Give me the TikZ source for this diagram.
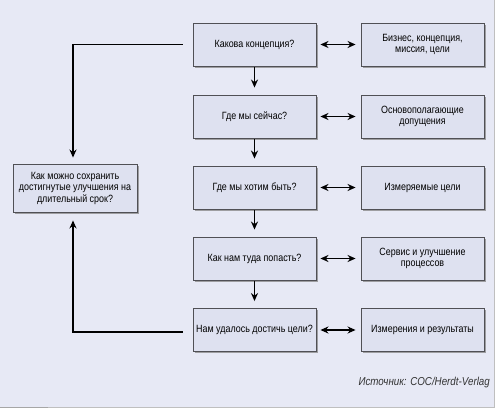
\documentclass[tikz,border=0pt]{standalone}
\usepackage{fontspec}
\setmainfont[FakeStretch=0.85]{Liberation Sans}
\usetikzlibrary{shadows,arrows.meta}
\definecolor{panelbg}{RGB}{231,233,245}
\definecolor{boxfill}{RGB}{222,225,240}
\definecolor{boxline}{RGB}{80,80,85}
\tikzset{
  box/.style={draw=boxline, line width=0.9pt, fill=boxfill, minimum width=123pt, minimum height=43pt,
    align=center, font=\fontsize{10.5}{11.5}\selectfont, inner sep=1pt,
    drop shadow={shadow xshift=1.6pt, shadow yshift=-1.6pt, fill=black!45, opacity=0.8}},
  conn/.style={line width=1.8pt, -{Stealth[length=8pt,width=7pt]}},
  dconn/.style={line width=1.8pt, {Stealth[length=8pt,width=7pt]}-{Stealth[length=8pt,width=7pt]}},
}
\begin{document}
\begin{tikzpicture}[x=1pt,y=-1pt]
\useasboundingbox (0,0) rectangle (500,411);
\fill[white] (0,0) rectangle (500,411);
\fill[panelbg] (0,0) rectangle (494,407);
\draw[black!25, line width=1pt] (494,0) -- (494,407) -- (0,407);
\draw[black!35, line width=1.2pt] (0,407.5) -- (48,407.5);
% main column
\node[box] (m1) at (254.5,44.5) {Какова концепция?};
\node[box] (m2) at (254.5,116.5) {Где мы сейчас?};
\node[box] (m3) at (254.5,187.5) {Где мы хотим быть?};
\node[box] (m4) at (254.5,258.5) {Как нам туда попасть?};
\node[box] (m5) at (254.5,330) {Нам удалось достичь цели?};
% right column
\node[box] (r1) at (422.5,44.5) {Бизнес, концепция,\\миссия, цели};
\node[box] (r2) at (422.5,116.5) {Основополагающие\\допущения};
\node[box] (r3) at (422.5,187.5) {Измеряемые цели};
\node[box] (r4) at (422.5,258.5) {Сервис и улучшение\\процессов};
\node[box] (r5) at (422.5,330) {Измерения и результаты};
% left box
\node[box, minimum width=124pt, minimum height=48pt] (l) at (75,188) {Как можно сохранить\\достигнутые улучшения на\\длительный срок?};
% down arrows
\foreach \a/\b in {m1/m2,m2/m3,m3/m4,m4/m5}
  \draw[conn, shorten >=7pt, shorten <=1pt] (\a.south) -- (\b.north);
% double arrows
\foreach \i in {1,...,5}
  \draw[dconn, shorten <=4pt, shorten >=5pt] (m\i.east) -- (r\i.west);
% left loop
\draw[conn, shorten >=6pt] ([xshift=-10pt]m1.west) -| ([xshift=-2pt]l.north);
\draw[conn, shorten >=8pt] ([xshift=-10pt,yshift=-2pt]m5.west) -| ([xshift=-2pt]l.south);
% source
\node[anchor=base east, font=\fontsize{11.5}{13}\selectfont\itshape, text=black!80, inner sep=0pt] (src) at (490,385) {Источник: COC/Herdt-Verlag};
\end{tikzpicture}
\end{document}
